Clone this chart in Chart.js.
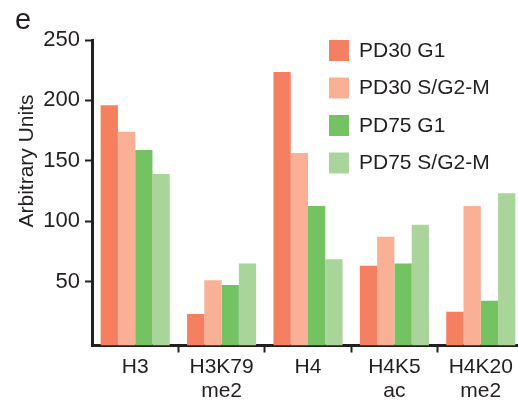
<!DOCTYPE html>
<html>
<head>
<meta charset="utf-8">
<script src="https://cdn.jsdelivr.net/npm/chart.js@4"></script>
<style>
  html,body{margin:0;padding:0;background:#fff;overflow:hidden}
  #wrap{position:relative;width:526px;height:404px}
</style>
</head>
<body>
<div id="wrap"><canvas id="c"></canvas></div>
<script>
'use strict';
// ── DATA ──────────────────────────────────────────────────────
const categories = [['H3'], ['H3K79', 'me2'], ['H4'], ['H4K5', 'ac'], ['H4K20', 'me2']];
const seriesNames = ['PD30 G1', 'PD30 S/G2-M', 'PD75 G1', 'PD75 S/G2-M'];
const pd30G1  = [196, 23, 223.5, 63, 25];
const pd30SG2 = [174, 51, 156.5, 87, 112.5];
const pd75G1  = [159, 47, 112.5, 65, 34];
const pd75SG2 = [139, 65, 68.5, 97, 123];
const yTicks = [50, 100, 150, 200, 250];
const yTitle = 'Arbitrary Units';
const panelLabel = 'e';

// ── STYLE ─────────────────────────────────────────────────────
const INK = '#231f20';
const FONT = '"Liberation Sans", Arial, Helvetica, sans-serif';
const colors = ['#f47f61', '#f9b094', '#75c263', '#aad59a'];
const Y_MIN = -3, Y_MAX = 250;

const series = [pd30G1, pd30SG2, pd75G1, pd75SG2];

// legend + panel letter + y title drawn on the canvas
const extras = {
  id: 'extras',
  afterDraw(chart) {
    const ctx = chart.ctx;
    ctx.save();
    ctx.fillStyle = INK;
    ctx.font = '29px ' + FONT;
    ctx.textBaseline = 'alphabetic';
    ctx.textAlign = 'left';
    ctx.fillText(panelLabel, 15, 28.5);

    // y title
    ctx.save();
    ctx.translate(27, 161);
    ctx.rotate(-Math.PI / 2);
    ctx.font = '21px ' + FONT;
    ctx.textAlign = 'center';
    ctx.textBaseline = 'middle';
    ctx.fillText(yTitle, 0, 0);
    ctx.restore();

    // legend
    ctx.font = '21px ' + FONT;
    ctx.textBaseline = 'middle';
    chart.data.datasets.forEach((ds, i) => {
      const top = 40 + i * 37.5;
      ctx.fillStyle = ds.backgroundColor;
      ctx.fillRect(329, top, 20, 21);
      ctx.fillStyle = INK;
      ctx.fillText(ds.label, 359, top + 11);
    });
    ctx.restore();
  }
};

new Chart(document.getElementById('c'), {
  type: 'bar',
  data: {
    labels: categories,
    datasets: series.map((d, i) => ({
      label: seriesNames[i],
      data: d,
      backgroundColor: colors[i],
      borderWidth: 0,
      base: Y_MIN,
      categoryPercentage: 0.8,
      barPercentage: 1.0
    }))
  },
  options: {
    responsive: true,
    maintainAspectRatio: false,
    animation: false,
    layout: { padding: { left: 0, right: 2, top: 40, bottom: 0 } },
    plugins: { legend: { display: false }, tooltip: { enabled: false } },
    scales: {
      x: {
        offset: true,
        border: { display: true, color: INK, width: 3 },
        grid: {
          offset: true,
          drawOnChartArea: false,
          drawTicks: true,
          tickLength: 7,
          tickWidth: 2,
          tickColor: c => c.index === 0 ? 'rgba(0,0,0,0)' : INK
        },
        ticks: {
          color: INK,
          font: { family: FONT, size: 21, lineHeight: '24px' },
          padding: 3,
          maxRotation: 0,
          autoSkip: false
        },
        afterFit: s => { s.height = 58.5; }
      },
      y: {
        min: Y_MIN,
        max: Y_MAX,
        border: { display: true, color: INK, width: 3 },
        grid: {
          drawOnChartArea: false,
          drawTicks: true,
          tickLength: 7,
          tickWidth: 2,
          tickColor: INK
        },
        ticks: {
          color: INK,
          font: { family: FONT, size: 22 },
          padding: 5
        },
        afterBuildTicks: s => { s.ticks = yTicks.map(v => ({ value: v })); },
        afterFit: s => { s.width = 92; }
      }
    }
  },
  plugins: [extras]
});
</script>
</body>
</html>
